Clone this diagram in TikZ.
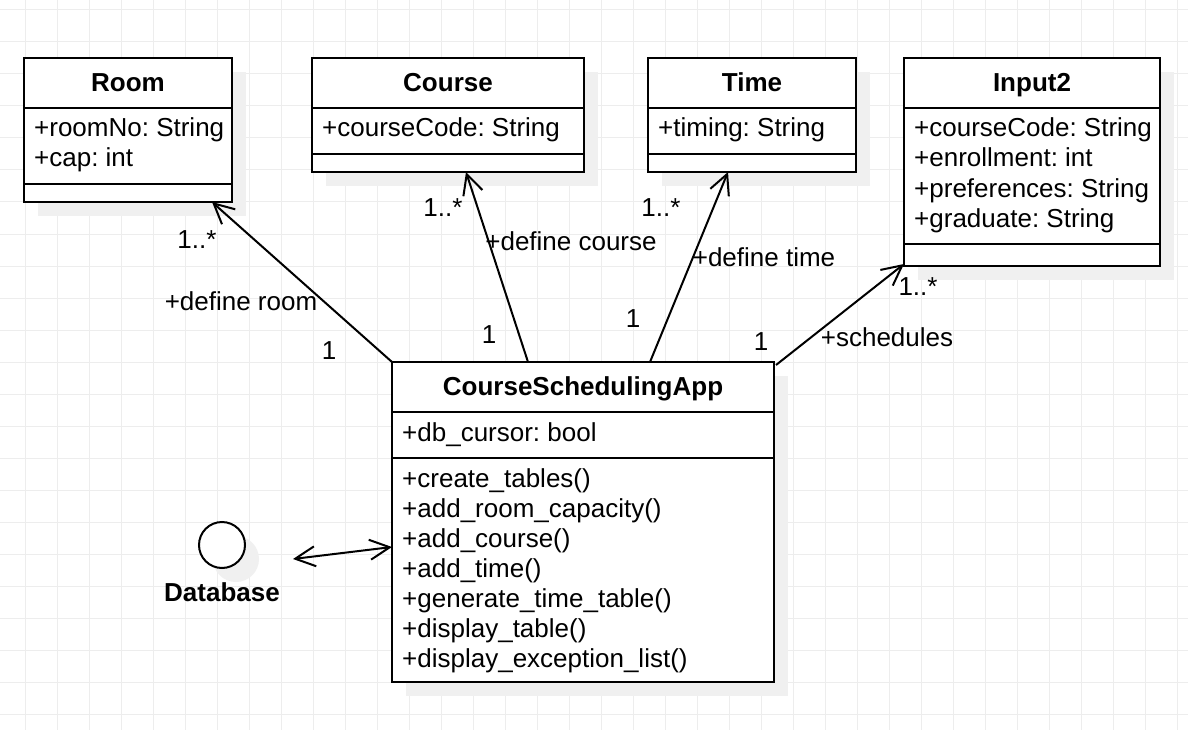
\documentclass[tikz,border=0pt]{standalone}
\usepackage{fontspec}
\setmainfont{Liberation Sans}
\frenchspacing
\usetikzlibrary{arrows.meta,shadows}

\tikzset{
  umlbox/.style={draw, line width=2pt, fill=white, inner sep=0pt, outer sep=0pt,
    anchor=north west, general shadow={fill=black!6, shadow xshift=14pt, shadow yshift=-14pt}},
  umltitle/.style={font=\fontsize{26}{30}\selectfont\bfseries, anchor=base, inner sep=0pt},
  umltext/.style={font=\fontsize{26}{30}\selectfont, anchor=base west, inner sep=0pt},
  umllabel/.style={font=\fontsize{26}{30}\selectfont, anchor=base, inner sep=0pt},
  assoc/.style={line width=2pt, -{Straight Barb[length=20pt,width=20pt]}},
  dbassoc/.style={line width=2pt, {Straight Barb[length=20pt,width=20pt]}-{Straight Barb[length=20pt,width=20pt]}},
}

\begin{document}
\begin{tikzpicture}[x=1pt, y=-1pt]

    % Canvas and grid
    \useasboundingbox[fill=white] (0,0) rectangle (1188,730);
    \foreach \gx in {0,...,36} \draw[black!7, line width=1pt] (25+32*\gx,0) -- (25+32*\gx,730);
    \foreach \gy in {0,...,22} \draw[black!7, line width=1pt] (0,10+32*\gy) -- (1188,10+32*\gy);

    % Room
    \node[umlbox, minimum width=208pt, minimum height=144pt] (room) at (24,58) {};
    \draw[line width=2pt] (24,108) -- (232,108);
    \draw[line width=2pt] (24,184) -- (232,184);
    \node[umltitle] (roomT) at (128,92) {Room};
    \node[umltext] (roomA0) at (34,137) {+roomNo: String};
    \node[umltext] (roomA1) at (34,167) {+cap: int};

    % Course
    \node[umlbox, minimum width=272pt, minimum height=114pt] (course) at (312,58) {};
    \draw[line width=2pt] (312,108) -- (584,108);
    \draw[line width=2pt] (312,154) -- (584,154);
    \node[umltitle] (courseT) at (448,92) {Course};
    \node[umltext] (courseA0) at (322,137) {+courseCode: String};

    % Time
    \node[umlbox, minimum width=208pt, minimum height=114pt] (time) at (648,58) {};
    \draw[line width=2pt] (648,108) -- (856,108);
    \draw[line width=2pt] (648,154) -- (856,154);
    \node[umltitle] (timeT) at (752,92) {Time};
    \node[umltext] (timeA0) at (658,137) {+timing: String};

    % Input2
    \node[umlbox, minimum width=256pt, minimum height=208pt] (input) at (904,58) {};
    \draw[line width=2pt] (904,108) -- (1160,108);
    \draw[line width=2pt] (904,244) -- (1160,244);
    \node[umltitle] (inputT) at (1032,92) {Input2};
    \foreach \t [count=\i from 0] in {+courseCode: String, +enrollment: int, +preferences: String, +graduate: String}
      \node[umltext] (inputA\i) at (914,137+30*\i) {\t};

    % CourseSchedulingApp
    \node[umlbox, minimum width=382pt, minimum height=320pt] (app) at (392,362) {};
    \draw[line width=2pt] (392,412) -- (774,412);
    \draw[line width=2pt] (392,458) -- (774,458);
    \node[umltitle] (appT) at (583,395) {CourseSchedulingApp};
    \node[umltext] (appA0) at (402,441) {+db\_cursor: bool};
    \foreach \t [count=\i from 0] in {+create\_tables(), +add\_room\_capacity(), +add\_course(), +add\_time(), +generate\_time\_table(), +display\_table(), +display\_exception\_list()}
      \node[umltext] (appM\i) at (402,487+30*\i) {\t};

    % Database
    \node[draw, circle, line width=2pt, fill=white, minimum size=46pt, inner sep=0pt,
      general shadow={fill=black!6, shadow xshift=14pt, shadow yshift=-14pt}] (db) at (222,545) {};
    \node[umltitle] (dbT) at (222,601) {Database};

    % Associations
    \draw[assoc] (app.north west) -- ([xshift=-20pt]room.south east);
    \draw[assoc] ([xshift=136pt]app.north west) -- ([xshift=154pt]course.south west);
    \draw[assoc] ([xshift=258pt]app.north west) -- ([xshift=80pt]time.south west);
    \draw[assoc] ([xshift=2pt,yshift=-3pt]app.north east) -- ([yshift=2pt]input.south west);
    \draw[dbassoc] ([shift={(47pt,-14pt)}]db.east) -- ([yshift=-25pt]app.west);

    % Multiplicities and roles
    \node[umllabel] (roomMany) at (197,248) {1..*};
    \node[umllabel] (roomRole) at (241,310) {+define room};
    \node[umllabel] (roomOne) at (329,359) {1};
    \node[umllabel] (courseMany) at (443,216) {1..*};
    \node[umllabel] (courseRole) at (571,250) {+define course};
    \node[umllabel] (courseOne) at (489,343) {1};
    \node[umllabel] (timeMany) at (661,216) {1..*};
    \node[umllabel] (timeRole) at (764,266) {+define time};
    \node[umllabel] (timeOne) at (633,327) {1};
    \node[umllabel] (inputMany) at (918,295) {1..*};
    \node[umllabel] (inputRole) at (887,346) {+schedules};
    \node[umllabel] (inputOne) at (761,350) {1};

\end{tikzpicture}
\end{document}
